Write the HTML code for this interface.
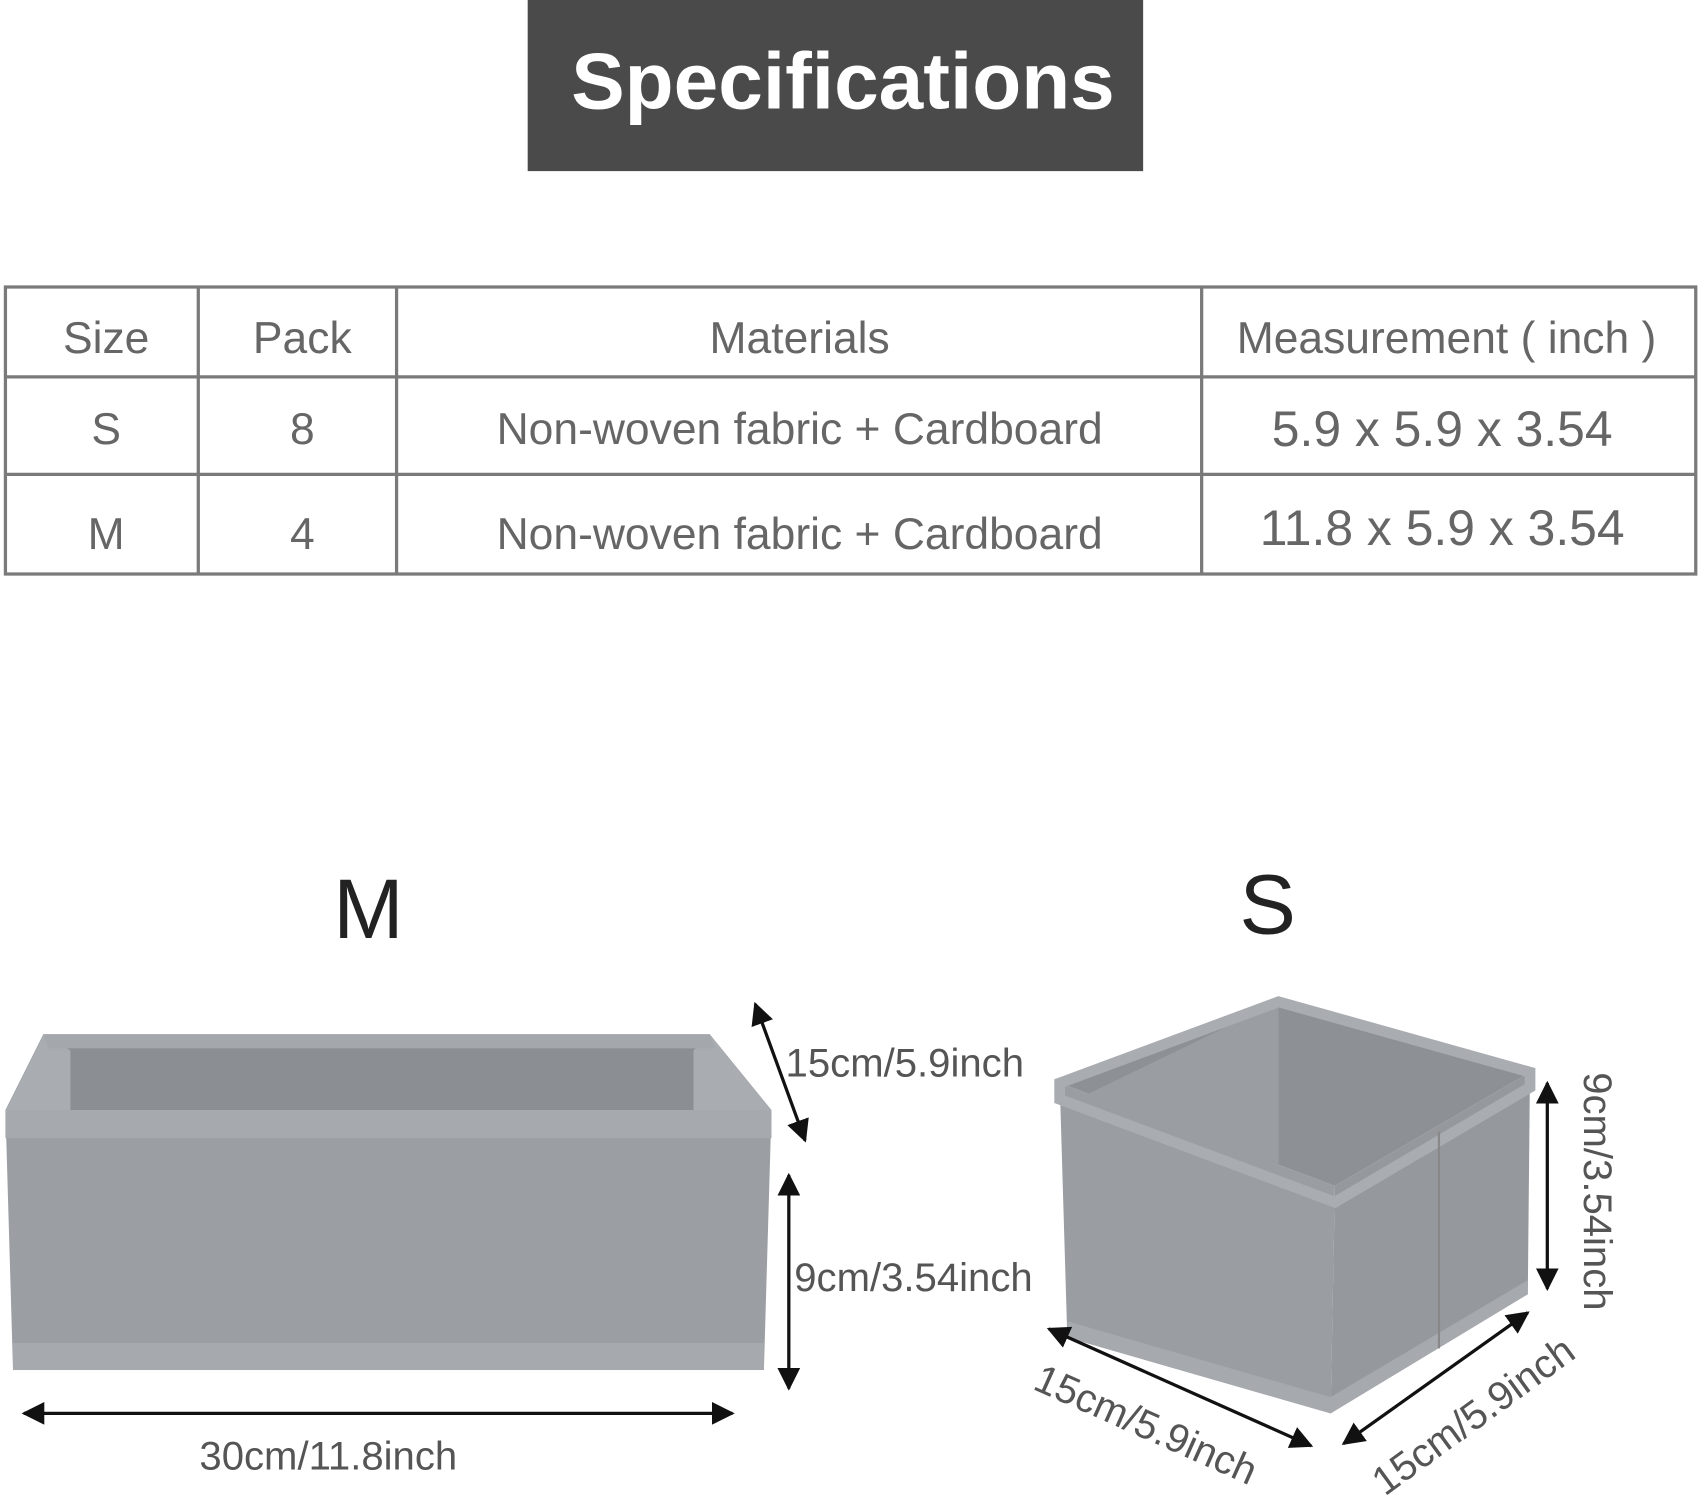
<!DOCTYPE html>
<html><head><meta charset="utf-8"><style>
html,body{margin:0;padding:0;background:#fff;}
svg{display:block}
</style></head><body>
<svg width="1699" height="1500" viewBox="0 0 1568 1385" preserveAspectRatio="none" xmlns="http://www.w3.org/2000/svg" font-family="Liberation Sans, DejaVu Sans, sans-serif">
<defs>
<marker id="ah" viewBox="0 0 10 10" refX="9" refY="5" markerWidth="7" markerHeight="7" orient="auto-start-reverse"><path d="M0,0 L10,5 L0,10 z" fill="#111"/></marker>
</defs>
<rect x="487" y="0" width="568" height="158" fill="#4a4a4a"/>
<text x="778" y="100" text-anchor="middle" font-size="74" font-weight="bold" fill="#fff">Specifications</text>

<g stroke="#7a7a7a" stroke-width="3" fill="none">
<rect x="5" y="265" width="1560" height="265"/>
<line x1="5" y1="348" x2="1565" y2="348"/>
<line x1="5" y1="438" x2="1565" y2="438"/>
<line x1="183" y1="265" x2="183" y2="530"/>
<line x1="366" y1="265" x2="366" y2="530"/>
<line x1="1109" y1="265" x2="1109" y2="530"/>
</g>
<g fill="#666" font-size="41" text-anchor="middle">
<text x="98" y="326">Size</text><text x="279" y="326">Pack</text><text x="738" y="326">Materials</text><text x="1335" y="326">Measurement ( inch )</text>
<text x="98" y="410">S</text><text x="279" y="410">8</text><text x="738" y="410">Non-woven fabric + Cardboard</text><text x="1331" y="412" font-size="46">5.9 x 5.9 x 3.54</text>
<text x="98" y="507">M</text><text x="279" y="507">4</text><text x="738" y="507">Non-woven fabric + Cardboard</text><text x="1331" y="503" font-size="46">11.8 x 5.9 x 3.54</text>
</g>

<text x="340" y="866" text-anchor="middle" font-size="78" fill="#222">M</text>
<text x="1170" y="862" text-anchor="middle" font-size="78" fill="#222">S</text>

<!-- M box -->
<polygon points="40,955 655,955 712,1025 5,1025" fill="#8b8e93"/>
<polygon points="40,955 65,970 65,1025 5,1025" fill="#a9acb0"/>
<polygon points="655,955 640,970 640,1025 712,1025" fill="#a9acb0"/>
<polygon points="40,955 655,955 660,968 45,968" fill="#a4a7ab"/>
<polygon points="5,1025 712,1025 705,1265 12,1265" fill="#9b9ea3"/>
<rect x="5" y="1025" width="707" height="26" fill="#a6a9ad"/>
<rect x="12" y="1240" width="693" height="25" fill="#a6a9ad"/>

<!-- S box -->
<polygon points="978,1000 1180,925 1412,990 1232,1095" fill="#8d9095"/>
<polygon points="1180,925 1180,1100 1232,1095 1000,1012" fill="#9a9da1"/>
<polygon points="978,1000 1232,1095 1228,1305 985,1235" fill="#9a9da2"/>
<polygon points="1232,1095 1412,990 1410,1195 1228,1305" fill="#95989d"/>
<polygon points="978,1000 1180,925 1412,990 1412,1004 1232,1110 978,1015" fill="none" stroke="#a9acb0" stroke-width="10"/>
<polygon points="985,1220 1228,1290 1410,1182 1410,1195 1228,1305 985,1235" fill="#a6a9ad"/>
<line x1="1328" y1="1045" x2="1328" y2="1245" stroke="#888" stroke-width="2"/>

<!-- arrows -->
<g stroke="#111" stroke-width="3" marker-start="url(#ah)" marker-end="url(#ah)">
<line x1="22" y1="1305" x2="676" y2="1305"/>
<line x1="728" y1="1085" x2="728" y2="1282"/>
<line x1="697" y1="927" x2="743" y2="1053"/>
<line x1="1428" y1="1000" x2="1428" y2="1190"/>
<line x1="968" y1="1227" x2="1210" y2="1335"/>
<line x1="1240" y1="1333" x2="1410" y2="1212"/>
</g>
<g fill="#555" font-size="37">
<text x="303" y="1357" text-anchor="middle">30cm/11.8inch</text>
<text x="733" y="1192">9cm/3.54inch</text>
<text x="725" y="994">15cm/5.9inch</text>
<text transform="translate(1462,990) rotate(90)">9cm/3.54inch</text>
<text transform="translate(952,1282) rotate(24)">15cm/5.9inch</text>
<text transform="translate(1278,1382) rotate(-36)">15cm/5.9inch</text>
</g>
</svg>
</body></html>
